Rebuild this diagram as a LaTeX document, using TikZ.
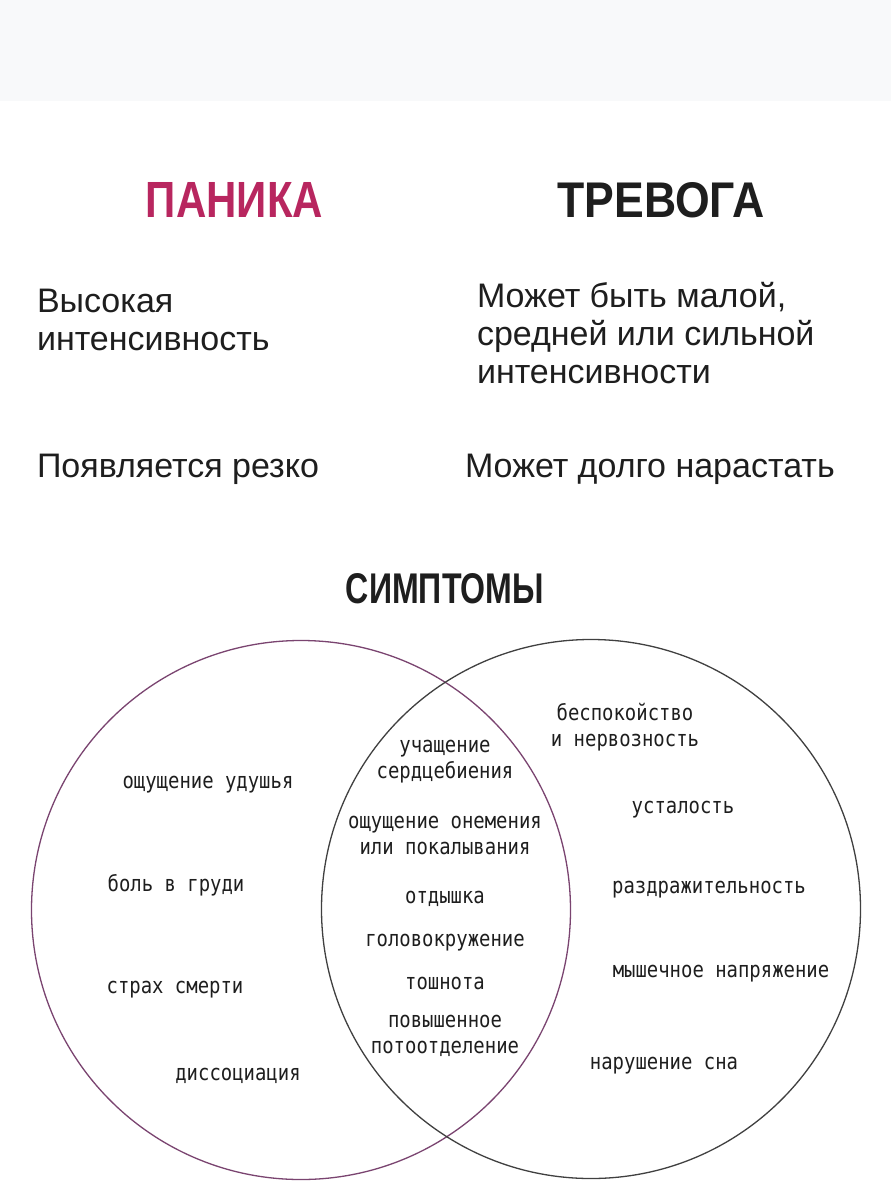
\documentclass[tikz,border=0pt]{standalone}
\usepackage{fontspec}
\usepackage{graphicx}
\setmainfont{Liberation Sans}
\newfontfamily\symfont[FakeStretch=0.86]{DejaVu Sans Mono}
\definecolor{panicpink}{HTML}{B8265F}
\definecolor{panicline}{HTML}{7A4470}
\definecolor{inkdark}{HTML}{1E1E1E}
\definecolor{bandgray}{HTML}{F8F9FA}
\newcommand{\headtext}[3]{\resizebox{#1pt}{#2pt}{\bfseries #3}}
\begin{document}
\begin{tikzpicture}[x=1pt,y=-1pt,
  every node/.style={inner sep=0pt, outer sep=0pt},
  bodytext/.style={font=\fontsize{34}{39}\selectfont, text=inkdark, anchor=base west},
  symtext/.style={font=\symfont\fontsize{22}{25.5}\selectfont, text=inkdark, anchor=base, align=center},
  headnode/.style={anchor=base},
  vennring/.style={circle, draw, line width=1.3pt, minimum size=539pt}
]
\useasboundingbox (0,0) rectangle (891,1200);
\fill[white] (0,0) rectangle (891,1200);
\fill[bandgray] (0,0) rectangle (891,101);

% headings
\node[headnode, text=panicpink] (panic) at (234.5,217) {\headtext{177}{35}{ПАНИКА}};
\node[headnode, text=inkdark] (anx) at (661,217) {\headtext{207}{35}{ТРЕВОГА}};
\node[headnode, text=inkdark] (sympt) at (445,603) {\headtext{198}{30}{СИМПТОМЫ}};

% comparison text
\node[bodytext] (p1a) at (37,312) {Высокая};
\node[bodytext] (p1b) at (37,350) {интенсивность};
\node[bodytext] (a1a) at (477,307) {Может быть малой,};
\node[bodytext] (a1b) at (477,345) {средней или сильной};
\node[bodytext] (a1c) at (477,383) {интенсивности};
\node[bodytext] (p2) at (37,477) {Появляется резко};
\node[bodytext] (a2) at (465,477) {Может долго нарастать};

% Venn circles
\node[vennring, draw=panicline] (cpanic) at (301,910) {};
\node[vennring, draw=inkdark!85] (canx) at (591,909) {};

% panic only
\node[symtext] (s1) at (208,788) {ощущение удушья};
\node[symtext] (s2) at (176,891) {боль в груди};
\node[symtext] (s3) at (175,993) {страх смерти};
\node[symtext] (s4) at (238,1080) {диссоциация};

% shared (base anchor = baseline of the last line)
\node[symtext] (c1) at (445,778) {учащение\\сердцебиения};
\node[symtext] (c2) at (445,854) {ощущение онемения\\или покалывания};
\node[symtext] (c3) at (445,903) {отдышка};
\node[symtext] (c4) at (445,946) {головокружение};
\node[symtext] (c5) at (445,989) {тошнота};
\node[symtext] (c6) at (445,1053) {повышенное\\потоотделение};

% anxiety only
\node[symtext] (r1) at (625,746) {беспокойство\\и нервозность};
\node[symtext] (r2) at (683,813) {усталость};
\node[symtext] (r3) at (709,893) {раздражительность};
\node[symtext] (r4) at (721,977) {мышечное напряжение};
\node[symtext] (r5) at (664,1069) {нарушение сна};
\end{tikzpicture}
\end{document}
